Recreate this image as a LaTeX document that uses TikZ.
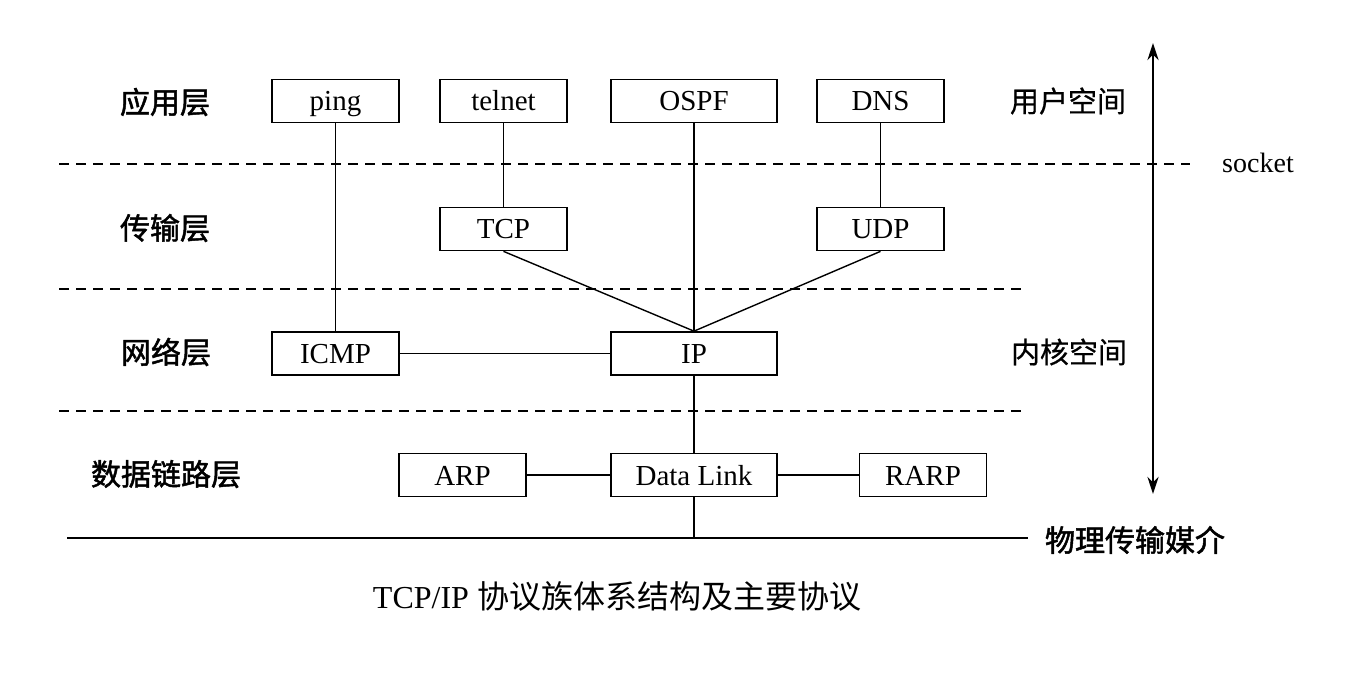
\documentclass[tikz,border=0pt]{standalone}
\usepackage{fontspec}
\setmainfont{Liberation Serif}
\newfontfamily\cjk{Noto Sans CJK SC}
\newfontfamily\cjkheavy{Noto Sans CJK SC}[FakeBold=1.6]
\newfontfamily\cjkmid{Noto Sans CJK SC}[FakeBold=0.6]
\usepackage{tikz}
\usetikzlibrary{positioning,calc,arrows.meta}

\begin{document}
\begin{tikzpicture}[
	x=1pt, y=-1pt,
	box/.style={draw, line width=1.7pt, minimum width=127pt, minimum height=43pt,
		inner sep=0pt, text height=20pt, text depth=0pt, font=\fontsize{29}{31}\selectfont},
	wide box/.style={box, minimum width=166pt},
	layer label/.style={font=\fontsize{30}{32}\selectfont\cjkheavy},
	space label/.style={font=\fontsize{29}{31}\selectfont\cjkmid},
	layer line/.style={dash pattern=on 10pt off 7pt, line width=1.8pt},
	link/.style={line width=1.4pt},
	span/.style={line width=2.8pt, <->, >={Stealth[length=17pt,width=11pt]}}
	]
	\useasboundingbox (0,0) rectangle (1361,687);
	% layer separators
	\coordinate (s1l) at (59,164);  \coordinate (s1r) at (1190,164);
	\coordinate (s2l) at (59,289);  \coordinate (s2r) at (1027,289);
	\coordinate (s3l) at (59,411);  \coordinate (s3r) at (1027,411);
	\coordinate (gl) at (67,538);   \coordinate (gr) at (1028,538);
	\draw[layer line] (s1l) -- (s1r);
	\draw[layer line] (s2l) -- (s2r);
	\draw[layer line] (s3l) -- (s3r);
	\draw[line width=1.8pt] (gl) -- (gr);
	% layer names
	\node[layer label] (app) at (165,102) {应用层};
	\node[layer label] (trans) at (165,228) {传输层};
	\node[layer label] (net) at (166,352) {网络层};
	\node[layer label] (link) at (166,474) {数据链路层};
	% protocols
	\node[box] (ping) at (335.5,101) {ping};
	\node[box] (telnet) at (503.5,101) {telnet};
	\node[wide box] (ospf) at (694,101) {OSPF};
	\node[box] (dns) at (880.5,101) {DNS};
	\node[box] (tcp) at (503.5,229) {TCP};
	\node[box] (udp) at (880.5,229) {UDP};
	\node[box] (icmp) at (335.5,353.5) {ICMP};
	\node[wide box] (ip) at (694,353.5) {IP};
	\node[box] (arp) at (462.5,475) {ARP};
	\node[wide box] (dlink) at (694,475) {Data Link};
	\node[box] (rarp) at (923,475) {RARP};
	% Lines
	\draw[link] (ping) -- (icmp);
	\draw[link] (telnet) -- (tcp);
	\draw[link] (ospf) -- (ip);
	\draw[link] (dns) -- (udp);
	\draw[link] (tcp.south) -- (ip.north);
	\draw[link] (udp.south) -- (ip.north);
	\draw[link] (icmp) -- (ip);
	\draw[link] (ip) -- (dlink);
	\draw[link] (arp) -- (dlink);
	\draw[link] (dlink) -- (rarp);
	\draw[link] (dlink.south) -- (dlink.south |- gl);
	% user / kernel space
	\coordinate (top) at (1153,43);
	\coordinate (bottom) at (1153,494);
	\draw[span] (top) -- (bottom);
	\node[space label] (user) at (1068,101) {用户空间};
	\node[space label] (kernel) at (1069,352) {内核空间};
	\node[font=\fontsize{28}{30}\selectfont] (socket) at (1258,163) {socket};
	\node[layer label] (medium) at (1135,540) {物理传输媒介};
	% caption
	\node[font=\fontsize{32}{34}\selectfont] (caption) at (617,596)
	{TCP/IP {\cjk 协议族体系结构及主要协议}};
\end{tikzpicture}
\end{document}
